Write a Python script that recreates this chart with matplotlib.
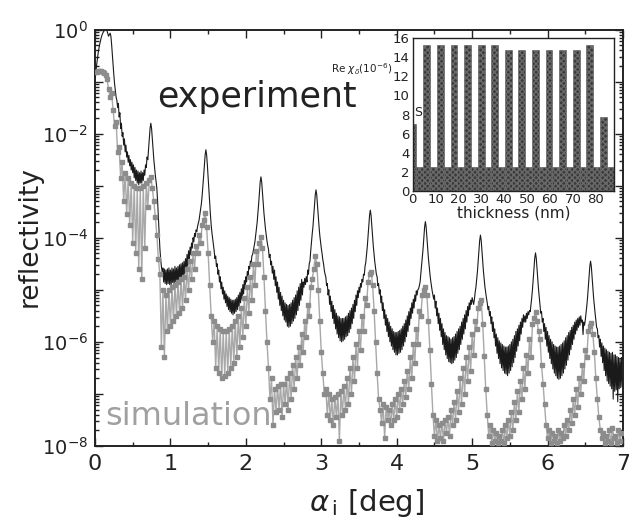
import numpy as np
import matplotlib
matplotlib.use("Agg")
import matplotlib.pyplot as plt
from matplotlib.ticker import FixedLocator, MultipleLocator, FuncFormatter, LogLocator, NullFormatter

# experiment, log10(reflectivity), sampled every 0.01 deg from 0.00
exp_step = 0.01
exp_log = [
    -0.95, -0.85, -0.70, -0.58, -0.47, -0.38, -0.30, -0.23, -0.17, -0.12,
    -0.08, -0.05, -0.03, -0.01, 0.00, 0.00, -0.03, -0.08, -0.13, -0.10,
    -0.07, -0.12, -0.28, -0.48, -0.70, -0.88, -1.05, -1.18, -1.30, -1.36,
    -1.50, -1.42, -1.68, -1.60, -1.90, -1.80, -2.05, -1.98, -2.22, -2.10,
    -2.35, -2.22, -2.45, -2.35, -2.55, -2.42, -2.62, -2.50, -2.70, -2.55,
    -2.75, -2.60, -2.85, -2.65, -2.90, -2.70, -2.95, -2.72, -2.98, -2.75,
    -2.95, -2.72, -2.95, -2.75, -2.90, -2.70, -2.80, -2.60, -2.65, -2.45,
    -2.50, -2.30, -2.10, -1.90, -1.80, -1.90, -2.10, -2.31, -2.50, -2.66,
    -2.80, -2.92, -3.05, -3.30, -3.60, -3.90, -4.20, -4.40, -4.55, -4.65,
    -4.58, -4.85, -4.60, -4.88, -4.62, -4.90, -4.60, -4.88, -4.58, -4.90,
    -4.62, -4.90, -4.58, -4.86, -4.60, -4.90, -4.55, -4.85, -4.58, -4.87,
    -4.55, -4.85, -4.52, -4.82, -4.50, -4.80, -4.48, -4.75, -4.45, -4.70,
    -4.40, -4.62, -4.32, -4.55, -4.25, -4.45, -4.18, -4.32, -4.10, -4.20,
    -4.00, -4.08, -3.92, -3.98, -3.85, -3.88, -3.78, -3.72, -3.66, -3.55,
    -3.45, -3.35, -3.20, -3.02, -2.82, -2.61, -2.41, -2.31, -2.41, -2.61,
    -2.85, -3.10, -3.35, -3.55, -3.75, -3.90, -4.02, -4.15, -4.25, -4.40,
    -4.35, -4.55, -4.50, -4.70, -4.62, -4.85, -4.75, -4.98, -4.85, -5.08,
    -4.95, -5.18, -5.02, -5.25, -5.08, -5.32, -5.12, -5.38, -5.15, -5.42,
    -5.18, -5.45, -5.20, -5.48, -5.20, -5.45, -5.18, -5.42, -5.15, -5.38,
    -5.10, -5.32, -5.05, -5.25, -4.98, -5.18, -4.90, -5.08, -4.82, -4.98,
    -4.75, -4.85, -4.65, -4.72, -4.55, -4.60, -4.45, -4.48, -4.35, -4.32,
    -4.24, -4.15, -4.08, -3.96, -3.83, -3.70, -3.53, -3.34, -3.13, -2.93,
    -2.83, -2.93, -3.13, -3.34, -3.53, -3.69, -3.83, -3.95, -4.06, -4.15,
    -4.22, -4.38, -4.32, -4.52, -4.45, -4.68, -4.55, -4.80, -4.62, -4.92,
    -4.75, -5.05, -4.85, -5.18, -4.95, -5.30, -5.05, -5.40, -5.12, -5.50,
    -5.20, -5.58, -5.25, -5.62, -5.28, -5.70, -5.30, -5.72, -5.28, -5.70,
    -5.25, -5.65, -5.20, -5.60, -5.15, -5.55, -5.10, -5.48, -5.02, -5.40,
    -4.95, -5.30, -4.88, -5.20, -4.80, -5.10, -4.85, -4.95, -4.78, -4.90,
    -4.75, -4.85, -4.62, -4.70, -4.50, -4.45, -4.25, -4.08, -3.92, -3.78,
    -3.59, -3.38, -3.18, -3.08, -3.18, -3.38, -3.59, -3.78, -3.95, -4.08,
    -4.20, -4.30, -4.42, -4.50, -4.62, -4.70, -4.75, -4.92, -4.88, -5.10,
    -5.00, -5.28, -5.12, -5.42, -5.22, -5.55, -5.30, -5.65, -5.38, -5.75,
    -5.45, -5.85, -5.50, -5.92, -5.52, -5.98, -5.55, -6.00, -5.55, -5.98,
    -5.55, -5.95, -5.52, -5.90, -5.50, -5.88, -5.45, -5.82, -5.40, -5.75,
    -5.35, -5.65, -5.28, -5.55, -5.20, -5.42, -5.10, -5.30, -5.02, -5.15,
    -4.95, -5.05, -4.88, -4.95, -4.80, -4.85, -4.70, -4.72, -4.55, -4.47,
    -4.33, -4.17, -3.98, -3.77, -3.57, -3.47, -3.57, -3.77, -3.98, -4.17,
    -4.33, -4.47, -4.58, -4.70, -4.75, -4.92, -4.88, -5.08, -5.00, -5.25,
    -5.12, -5.40, -5.25, -5.55, -5.38, -5.68, -5.48, -5.80, -5.55, -5.90,
    -5.62, -6.00, -5.70, -6.08, -5.75, -6.15, -5.80, -6.20, -5.82, -6.25,
    -5.82, -6.25, -5.80, -6.22, -5.78, -6.20, -5.75, -6.15, -5.70, -6.08,
    -5.65, -6.00, -5.58, -5.90, -5.50, -5.80, -5.42, -5.68, -5.35, -5.55,
    -5.25, -5.45, -5.18, -5.35, -5.10, -5.22, -5.02, -5.10, -5.00, -4.98,
    -4.92, -4.85, -4.69, -4.55, -4.39, -4.20, -3.99, -3.79, -3.69, -3.79,
    -3.99, -4.20, -4.39, -4.55, -4.69, -4.82, -4.92, -5.02, -5.10, -5.18,
    -5.10, -5.35, -5.22, -5.50, -5.35, -5.65, -5.45, -5.78, -5.55, -5.90,
    -5.65, -6.05, -5.75, -6.15, -5.82, -6.25, -5.88, -6.32, -5.90, -6.38,
    -5.92, -6.40, -5.95, -6.42, -5.92, -6.40, -5.90, -6.35, -5.85, -6.30,
    -5.80, -6.22, -5.75, -6.15, -5.70, -6.05, -5.62, -5.95, -5.55, -5.85,
    -5.48, -5.75, -5.40, -5.62, -5.32, -5.50, -5.25, -5.38, -5.20, -5.28,
    -5.15, -5.22, -5.28, -5.18, -5.05, -4.95, -4.81, -4.65, -4.46, -4.25,
    -4.05, -3.95, -4.05, -4.25, -4.46, -4.65, -4.81, -4.95, -5.06, -5.16,
    -5.25, -5.38, -5.32, -5.50, -5.42, -5.65, -5.52, -5.80, -5.62, -5.92,
    -5.75, -6.08, -5.85, -6.22, -5.92, -6.32, -5.98, -6.42, -6.02, -6.50,
    -6.05, -6.55, -6.08, -6.60, -6.10, -6.62, -6.10, -6.65, -6.08, -6.60,
    -6.05, -6.55, -6.00, -6.48, -5.95, -6.40, -5.88, -6.30, -5.80, -6.18,
    -5.75, -6.08, -5.68, -5.98, -5.62, -5.85, -5.55, -5.72, -5.48, -5.62,
    -5.50, -5.62, -5.45, -5.55, -5.42, -5.48, -5.40, -5.42, -5.29, -5.15,
    -4.99, -4.80, -4.59, -4.39, -4.29, -4.39, -4.59, -4.80, -4.99, -5.15,
    -5.29, -5.45, -5.42, -5.62, -5.55, -5.80, -5.65, -5.95, -5.72, -6.08,
    -5.80, -6.20, -5.88, -6.32, -5.95, -6.42, -6.00, -6.52, -6.05, -6.60,
    -6.08, -6.65, -6.10, -6.70, -6.10, -6.72, -6.08, -6.70, -6.05, -6.65,
    -6.02, -6.60, -5.98, -6.52, -5.92, -6.45, -5.88, -6.35, -5.82, -6.25,
    -5.78, -6.15, -5.72, -6.05, -5.68, -5.95, -5.62, -5.85, -5.58, -5.78,
    -5.55, -5.72, -5.52, -5.68, -5.50, -5.62, -5.58, -5.86, -5.62, -5.68,
    -5.58, -5.45, -5.31, -5.15, -4.96, -4.75, -4.55, -4.45, -4.55, -4.75,
    -4.96, -5.15, -5.31, -5.45, -5.58, -5.72, -5.75, -5.92, -5.88, -6.10,
    -5.95, -6.28, -6.02, -6.40, -6.08, -6.55, -6.12, -6.65, -6.15, -6.75,
    -6.18, -6.80, -6.20, -6.85, -6.22, -6.90, -6.20, -7.10, -6.25, -6.95,
    -6.25, -6.92, -6.28, -7.15, -6.30, -6.90, -6.32, -6.88, -6.30, -6.85,
]

# simulation, log10(reflectivity), sampled every 0.02 deg from 0.00
sim_step = 0.02
sim_log = [
    -0.82, -0.81, -0.80, -0.80, -0.80, -0.81, -0.83, -0.87, -0.95, -1.15,
    -1.30, -1.22, -1.55, -1.85, -1.78, -2.35, -2.25, -2.85, -2.55, -3.30,
    -2.75, -3.55, -2.85, -3.75, -2.95, -4.10, -3.00, -4.30, -3.05, -4.60,
    -3.05, -4.80, -3.00, -4.20, -2.95, -3.40, -2.90, -2.83, -3.05, -3.30,
    -3.60, -3.95, -4.40, -4.70, -6.10, -5.00, -6.30, -5.10, -5.80, -5.00,
    -5.70, -4.95, -5.60, -4.90, -5.50, -4.85, -5.45, -4.80, -5.35, -4.75,
    -5.20, -4.60, -5.00, -4.45, -4.80, -4.30, -4.60, -4.15, -4.30, -3.95,
    -4.10, -3.75, -3.65, -3.53, -3.80, -4.30, -4.90, -5.50, -6.00, -5.60,
    -6.50, -5.70, -6.60, -5.75, -6.70, -5.80, -6.65, -5.80, -6.60, -5.75,
    -6.50, -5.70, -6.40, -5.60, -6.30, -5.50, -6.10, -5.35, -5.90, -5.15,
    -5.70, -4.95, -5.45, -4.75, -5.20, -4.50, -4.90, -4.25, -4.50, -4.10,
    -3.98, -4.20, -4.75, -5.40, -6.00, -6.50, -7.10, -6.70, -7.60, -6.90,
    -7.35, -6.85, -7.30, -6.80, -7.45, -6.80, -7.20, -6.70, -7.30, -6.60,
    -7.10, -6.45, -6.90, -6.30, -6.70, -6.10, -6.45, -5.85, -6.20, -5.60,
    -5.90, -5.30, -5.50, -4.95, -4.80, -4.60, -4.36, -4.50, -5.00, -5.60,
    -6.20, -6.60, -7.00, -6.90, -7.40, -7.00, -7.50, -7.10, -7.60, -7.05,
    -7.45, -7.00, -7.90, -6.95, -7.40, -6.85, -7.30, -6.70, -7.20, -6.50,
    -7.00, -6.30, -6.75, -6.05, -6.50, -5.80, -6.15, -5.50, -5.80, -5.15,
    -5.30, -4.85, -4.70, -4.65, -4.90, -5.40, -6.00, -6.60, -7.10, -7.30,
    -7.55, -7.20, -7.85, -7.25, -7.50, -7.30, -7.60, -7.20, -7.50, -7.10,
    -7.45, -7.00, -7.30, -6.90, -7.20, -6.75, -7.05, -6.55, -6.90, -6.30,
    -6.70, -6.05, -6.40, -5.75, -6.05, -5.40, -5.50, -5.10, -5.00, -4.94,
    -5.10, -5.60, -6.15, -6.80, -7.40, -7.80, -7.50, -7.90, -7.60, -7.85,
    -7.55, -7.90, -7.50, -7.75, -7.45, -7.80, -7.30, -7.60, -7.15, -7.50,
    -6.95, -7.35, -6.70, -7.20, -6.50, -7.00, -6.30, -6.75, -6.10, -6.55,
    -5.85, -6.25, -5.60, -5.75, -5.35, -5.25, -5.20, -5.65, -6.28, -6.90,
    -7.40, -7.80, -7.60, -7.95, -7.70, -7.90, -7.75, -7.95, -7.80, -7.90,
    -7.70, -7.95, -7.60, -7.85, -7.50, -7.80, -7.35, -7.70, -7.15, -7.50,
    -6.95, -7.35, -6.75, -7.10, -6.50, -6.90, -6.25, -6.60, -5.95, -6.30,
    -5.65, -5.55, -5.42, -5.60, -5.80, -5.95, -6.45, -6.80, -7.20, -7.60,
    -7.85, -7.70, -7.95, -7.75, -7.90, -7.80, -7.95, -7.70, -7.90, -7.75,
    -7.85, -7.60, -7.80, -7.50, -7.70, -7.30, -7.55, -7.10, -7.40, -6.90,
    -7.25, -6.70, -7.00, -6.45, -6.75, -6.15, -6.30, -5.80, -5.70, -5.64,
    -5.85, -6.20, -6.70, -7.10, -7.45, -7.70, -7.85, -7.75, -7.95, -7.80,
    -7.90, -7.70, -7.95, -7.65, -7.85, -7.80, -7.95, -7.70, -7.90, -7.75,
]

# inset: layer profile Re chi_delta (1e-6) vs depth (nm)
layer_thick = [1.5, 3.2, 3.0, 2.93, 3.0, 2.93, 3.0, 2.93, 3.0, 2.93, 3.0, 2.93,
               3.0, 2.93, 3.0, 2.93, 3.0, 2.93, 3.0, 2.93, 3.0, 2.93, 3.0, 2.93,
               3.0, 2.93, 3.0, 2.93, 3.0, 3.2]
layer_chi = [7.0, 2.5, 15.3, 2.5, 15.3, 2.5, 15.3, 2.5, 15.3, 2.5, 15.3, 2.5,
             15.3, 2.5, 14.8, 2.5, 14.8, 2.5, 14.8, 2.5, 14.8, 2.5, 14.8, 2.5,
             14.8, 2.5, 15.3, 2.5, 7.7, 2.5]

exp_x = exp_step * np.arange(len(exp_log))
exp_y = 10.0 ** np.array(exp_log)
sim_x = sim_step * np.arange(len(sim_log))
sim_y = 10.0 ** np.array(sim_log)

W, H = 629, 519
fig = plt.figure(figsize=(W / 100, H / 100), dpi=100)
ax = fig.add_axes([95 / W, 1 - 446 / H, 528 / W, 416.5 / H])

ax.plot(exp_x, exp_y, color='#1a1a1a', lw=0.8, zorder=2)
ax.plot(sim_x, sim_y, color='#a8a8a8', lw=1.0, marker='s', ms=3.3,
        mfc='#8c8c8c', mec='#8c8c8c', zorder=3)

ax.set_yscale('log')
ax.set_xlim(0, 7)
ax.set_ylim(1e-8, 1)
ax.xaxis.set_major_locator(MultipleLocator(1))
ax.xaxis.set_minor_locator(MultipleLocator(0.5))
ax.yaxis.set_major_locator(LogLocator(base=10, numticks=20))
ax.yaxis.set_minor_locator(LogLocator(base=10, subs=np.arange(2, 10), numticks=20))
ax.yaxis.set_minor_formatter(NullFormatter())


def even_decades(v, pos):
    e = int(round(np.log10(v)))
    return r'$10^{%d}$' % e if e % 2 == 0 else ''


ax.yaxis.set_major_formatter(FuncFormatter(even_decades))
ax.tick_params(which='both', direction='in', top=True, right=True, width=1.0, color='#222222')
ax.tick_params(which='major', length=6)
ax.tick_params(which='minor', length=3)
ax.tick_params(axis='x', labelsize=16, pad=6, labelcolor='#222222')
ax.tick_params(axis='y', labelsize=14, pad=5, labelcolor='#222222')
for s in ax.spines.values():
    s.set_linewidth(1.4)
    s.set_color('#222222')

ax.set_ylabel('reflectivity', fontsize=19, color='#222222')
ax.yaxis.set_label_coords(-0.099, 0.503)
ax.set_xlabel(r'$\alpha_{\,\rm i}$ [deg]', fontsize=21, color='#222222')
ax.xaxis.set_label_coords(0.515, -0.098)

ax.text(0.82, 10 ** -1.49, 'experiment', fontsize=25, color='#222222', va='baseline')
ax.text(0.13, 10 ** -7.6, 'simulation', fontsize=23, color='#a0a0a0', va='baseline')

# inset
ins = fig.add_axes([412.7 / W, 1 - 190.7 / H, 201.3 / W, 152.4 / H])
edges = np.concatenate([[0], np.cumsum(layer_thick)[:-1]])
ins.bar(edges, layer_chi, width=layer_thick, align='edge', color='#3a3a3a',
        edgecolor='#6a6a6a', linewidth=0.4, hatch='xxxxxx')
ins.set_xlim(0, 88)
ins.set_ylim(0, 16)
ins.xaxis.set_major_locator(FixedLocator(np.arange(0, 81, 10)))
ins.yaxis.set_major_locator(FixedLocator(np.arange(0, 17, 2)))
ins.tick_params(direction='in', length=0, labelsize=9.5, pad=2, labelcolor='#222222')
ins.set_xlabel('thickness (nm)', fontsize=11, labelpad=-1, color='#222222')
for s in ins.spines.values():
    s.set_linewidth(1.0)
    s.set_color('#222222')
fig.text(392 / W, 1 - 69 / H, r'Re $\chi_\delta$(10$^{-6}$)', fontsize=7.5,
         color='#222222', va='center', ha='right')
fig.text(414 / W, 1 - 113 / H, 'S', fontsize=9, color='#222222', va='center')

fig.savefig('out.png', dpi=100)
